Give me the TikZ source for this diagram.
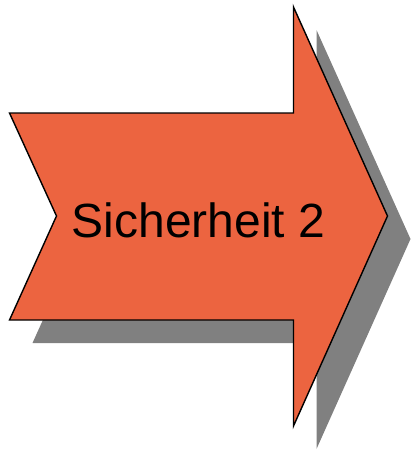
\documentclass[tikz,border=0pt]{standalone}
\usepackage{fontspec}
\setmainfont{Liberation Sans}
\definecolor{arrowfill}{RGB}{236,100,64}
\definecolor{shadowgray}{RGB}{128,128,128}
\begin{document}
\begin{tikzpicture}[x=1pt,y=-1pt,
  arrowshape/.style={fill=arrowfill,draw=black,line width=1.4pt,line join=miter},
  shadowshape/.style={fill=shadowgray}]
\useasboundingbox (0,0) rectangle (413,450);
\begin{scope}[shift={(23,23)}]
\fill[shadowshape] (9.5,113) -- (56.5,216) -- (9.5,320) -- (293.5,320) -- (293.5,426) -- (387.5,216) -- (293.5,7) -- (293.5,113) -- cycle;
\end{scope}
\draw[arrowshape] (9.5,113) -- (56.5,216) -- (9.5,320) -- (293.5,320) -- (293.5,426) -- (387.5,216) -- (293.5,7) -- (293.5,113) -- cycle;
\node[anchor=base,inner sep=0pt,font=\fontsize{48}{56}\selectfont] (label) at (198.5,237) {Sicherheit 2};
\end{tikzpicture}
\end{document}
